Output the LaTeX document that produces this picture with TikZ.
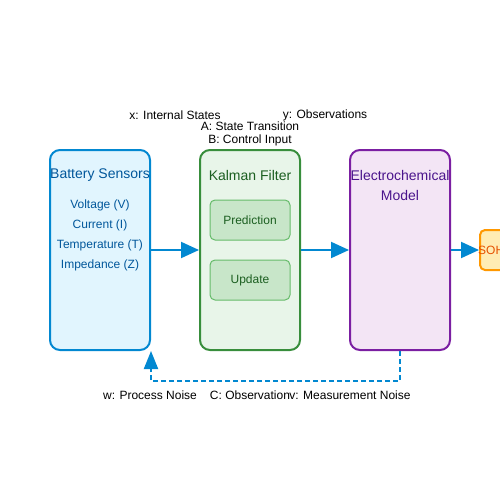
\documentclass[tikz,border=0pt]{standalone}
\usepackage{fontspec}
\setmainfont{Liberation Sans}
\usetikzlibrary{arrows.meta,positioning}

\definecolor{sensline}{HTML}{0288D1}
\definecolor{sensfill}{HTML}{E1F5FE}
\definecolor{senstext}{HTML}{01579B}
\definecolor{kfline}{HTML}{388E3C}
\definecolor{kffill}{HTML}{E8F5E9}
\definecolor{kftext}{HTML}{1B5E20}
\definecolor{stepline}{HTML}{66BB6A}
\definecolor{stepfill}{HTML}{C8E6C9}
\definecolor{emline}{HTML}{7B1FA2}
\definecolor{emfill}{HTML}{F3E5F5}
\definecolor{emtext}{HTML}{4A148C}
\definecolor{sohline}{HTML}{FF9800}
\definecolor{sohfill}{HTML}{FFECB3}
\definecolor{sohtext}{HTML}{E65100}

\begin{document}
\begin{tikzpicture}[x=1pt,y=-1pt,inner sep=0pt,
   block/.style={draw,rounded corners=10pt,line width=2pt,minimum width=100pt,minimum height=200pt},
   stepbox/.style={draw=stepline,fill=stepfill,text=kftext,rounded corners=5pt,line width=1pt,
                   minimum width=80pt,minimum height=40pt,font=\fontsize{12}{14}\selectfont},
   title/.style={font=\fontsize{14}{17}\selectfont},
   small/.style={font=\fontsize{12}{14}\selectfont},
   flow/.style={sensline,line width=2pt,-{Triangle[length=18pt,width=16pt]}}]
   \clip (0,0) rectangle (500,500);

   % blocks
   \node[block,draw=sensline,fill=sensfill] (bs) at (100,250) {};
   \node[block,draw=kfline,fill=kffill]     (kf) at (250,250) {};
   \node[block,draw=emline,fill=emfill]     (em) at (400,250) {};
   \node[draw=sohline,fill=sohfill,rounded corners=5pt,line width=2pt,
         minimum width=40pt,minimum height=40pt] (soh) at (500,250) {};

   % texts in the blocks
   \node[title,text=senstext] (bs title) at (100,175) {Battery Sensors};
   \node[small,text=senstext] (volt) at (100,205) {Voltage (V)};
   \node[small,text=senstext] (curr) at (100,225) {Current (I)};
   \node[small,text=senstext] (temp) at (100,245) {Temperature (T)};
   \node[small,text=senstext] (imp)  at (100,265) {Impedance (Z)};
   \node[title,text=kftext]   (kf title) at (250,175) {Kalman Filter};
   \node[stepbox] (pred) at (250,220) {Prediction};
   \node[stepbox] (upd)  at (250,280) {Update};
   \node[title,text=emtext,align=center] (em title) at (400,185)
        {Electrochemical\\[3pt]Model};
   \node[small,text=sohtext,anchor=west] (soh text) at (478,250) {SOH};

   % labels
   \node[small] (xlab) at (175,115) {x: Internal States};
   \node[small] (ylab) at (325,115) {y: Observations};
   \node[small] (alab) at (250,126) {A: State Transition};
   \node[small] (blab) at (250,140) {B: Control Input};
   \node[small] (wlab) at (150,395) {w: Process Noise};
   \node[small] (clab) at (250,395) {C: Observation};
   \node[small] (vlab) at (350,395) {v: Measurement Noise};

   % connectors
   \draw[flow] (bs) -- (kf);
   \draw[flow] (kf) -- (em);
   \draw[flow] (em) -- (soh);
   \draw[sensline,line width=2pt,dash pattern=on 5pt off 3pt,
         -{Triangle[length=18pt,width=14pt]}]
        (em.south) -- ++(0,30) -| (bs.south east);
\end{tikzpicture}
\end{document}
